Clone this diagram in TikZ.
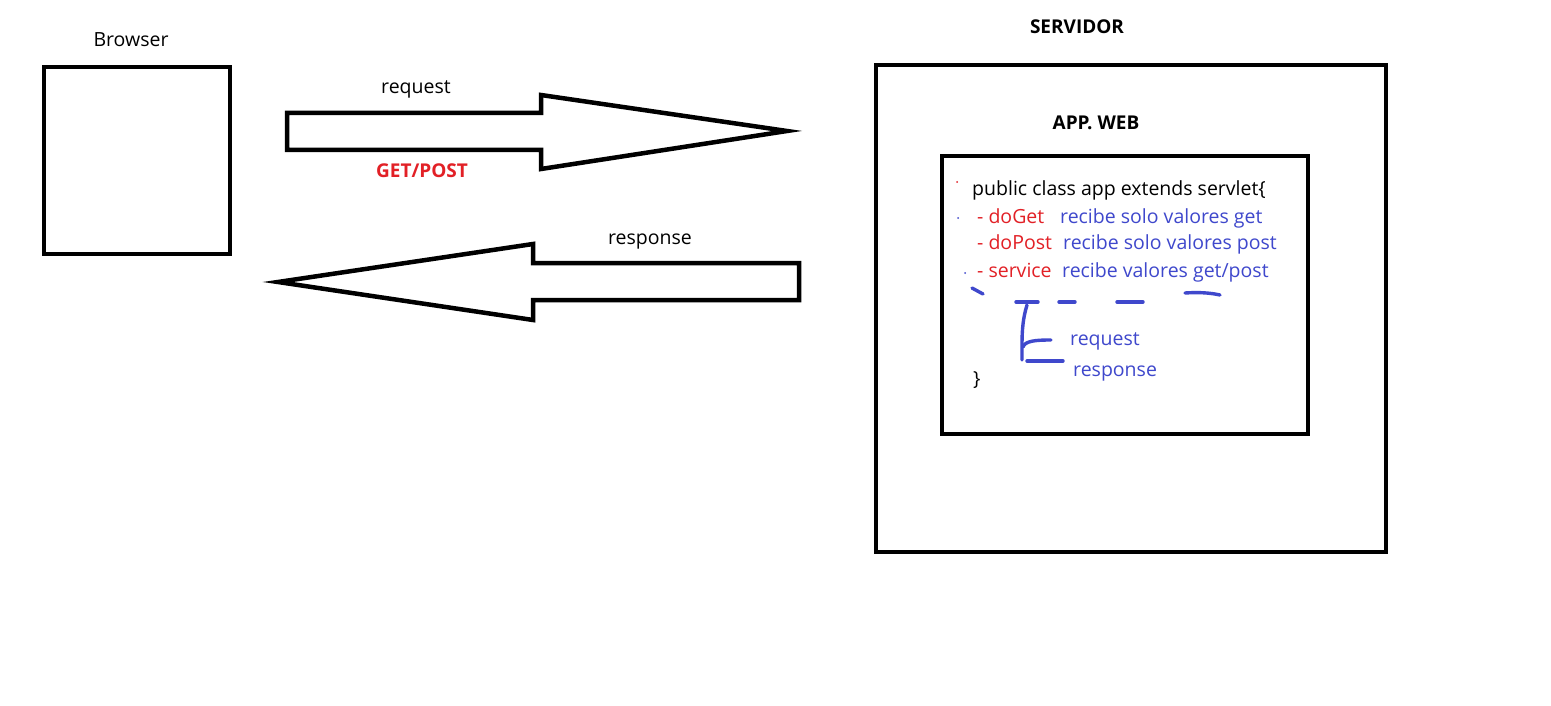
\documentclass[tikz,border=0pt]{standalone}
\usepackage{fontspec}
\setmainfont{Open Sans}
\definecolor{pred}{RGB}{226,32,38}
\definecolor{pblue}{RGB}{63,72,204}
\begin{document}
\begin{tikzpicture}[x=1pt,y=-1pt,
  box/.style={draw=black,line width=4pt},
  blk/.style={draw=black,line width=4.5pt,line join=miter},
  lbl/.style={inner sep=0pt,font=\fontsize{19.5}{22}\selectfont},
  bold/.style={lbl,font=\fontsize{19}{22}\selectfont\bfseries},
  code/.style={inner sep=0pt,anchor=base west,font=\fontsize{19.5}{22}\selectfont},
  penstroke/.style={draw=pblue,line width=3.4pt,line cap=round,line join=round}]
\useasboundingbox[fill=white] (0,0) rectangle (1551,706);
% Browser
\node[lbl] (browserlbl) at (131,40) {Browser};
\draw[box] (44,67) rectangle (230,254);
% request arrow
\draw[blk] (287,113) -- (541,113) -- (541,95) -- (787,131) -- (541,169) -- (541,150) -- (287,150) -- cycle;
\node[lbl] (reqlbl) at (416,89) {request};
\node[bold,text=pred] (getpost) at (422,171) {GET/POST};
% response arrow
\draw[blk] (799,263) -- (533,263) -- (533,244) -- (278,282) -- (533,320) -- (533,300) -- (799,300) -- cycle;
\node[lbl] (resplbl) at (650,242) {response};
% server
\node[bold] (servlbl) at (1077,27) {SERVIDOR};
\draw[box] (876,65) rectangle (1386,552);
\node[bold] (applbl) at (1096,123) {APP. WEB};
\draw[box] (942,156) rectangle (1308,434);
% code
\node[code] (l1) at (972,196) {public class app extends servlet\{};
\node[code,text=pred] (l2) at (977,223) {- doGet};
\node[code,text=pblue] (l2b) at (1060,223) {recibe solo valores get};
\node[code,text=pred] (l3) at (977,249) {- doPost};
\node[code,text=pblue] (l3b) at (1063,249) {recibe solo valores post};
\node[code,text=pred] (l4) at (977,277) {- service};
\node[code,text=pblue] (l4b) at (1062,277) {recibe valores get/post};
\node[code] (close) at (973,385) {\}};
\node[code,text=pblue] (rq) at (1070,345) {request};
\node[code,text=pblue] (rs) at (1073,376) {response};
% specks
\fill[pred] (957,182) circle (1pt);
\fill[pblue] (958,218) circle (1pt);
\fill[pblue] (965,273) circle (1pt);
% blue hand strokes
\draw[penstroke] (972,288) -- (983,294);
\draw[penstroke] (1016,302) -- (1038,302);
\draw[penstroke] (1059,302) -- (1075,302);
\draw[penstroke] (1117,302) -- (1143,302);
\draw[penstroke] (1185,293) .. controls (1200,292) and (1211,293) .. (1220,295);
\draw[penstroke] (1027,305) .. controls (1023,318) and (1022,330) .. (1022,345) -- (1022,360);
\draw[penstroke] (1023,347) .. controls (1025,341) and (1035,340) .. (1051,340);
\draw[penstroke] (1027,361) -- (1063,361);
\end{tikzpicture}
\end{document}
